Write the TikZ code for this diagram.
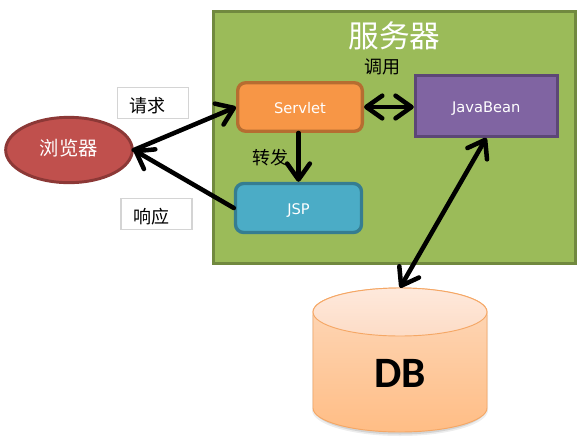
\documentclass[tikz,border=0pt]{standalone}
\usepackage{fontspec}
\setmainfont{DejaVu Sans}
\newfontfamily\cjk{Noto Sans CJK SC}
\newfontfamily\dbfont{Carlito}
\usetikzlibrary{arrows.meta,shapes.geometric,shadings}
\newcommand{\nudge}[2]{\raisebox{#1}[\height][\depth]{#2}}
\definecolor{srvfill}{HTML}{9BBB59}
\definecolor{srvline}{HTML}{71893F}
\definecolor{orgfill}{HTML}{F79646}
\definecolor{orgline}{HTML}{B66D31}
\definecolor{blufill}{HTML}{4BACC6}
\definecolor{bluline}{HTML}{357D91}
\definecolor{purfill}{HTML}{8064A2}
\definecolor{purline}{HTML}{5C4776}
\definecolor{redfill}{HTML}{C0504D}
\definecolor{redline}{HTML}{8C3836}
\definecolor{dbline}{HTML}{F5A765}
\definecolor{dbtopa}{HTML}{FEE9DC}
\definecolor{dbtopb}{HTML}{FDDCC6}
\definecolor{dbmid}{HTML}{FDD9BC}
\definecolor{dbbot}{HTML}{FFBD85}
\definecolor{lblline}{HTML}{D4D4D4}
\tikzset{
  px/.style={x=0.75pt,y=-0.75pt},
  barb/.tip={Straight Barb[length=12pt,width=17pt,line width=3.4pt,round]},
  flow/.style={line width=3.4pt,draw=black,line cap=round,line join=round},
  tip/.style={-barb},
  tips/.style={barb-barb},
  srvbox/.style={rectangle,minimum width=271.5pt,minimum height=189pt,fill=srvfill,draw=srvline,line width=2.2pt,inner sep=0pt},
  rbox/.style={rectangle,rounded corners=6pt,line width=2.5pt,text=white,inner sep=0pt,font=\fontsize{11}{13}\selectfont},
  lbl/.style={rectangle,draw=lblline,fill=white,line width=0.8pt,inner xsep=9pt,inner ysep=0pt,text width=35.25pt,align=flush left,minimum height=23.25pt,font=\cjk\fontsize{13.5}{15}\selectfont},
  note/.style={inner sep=0pt,font=\cjk\fontsize{13.5}{15}\selectfont,text=black},
}
\begin{document}
\begin{tikzpicture}[px]
\useasboundingbox (0,0) rectangle (586,440);
\fill[white] (0,0) rectangle (586,440);
\node[srvbox] (server) at (394.5,137.5) {};
\node[inner sep=0pt,text=white,font=\cjk\fontsize{23}{26}\selectfont] (title) at (394.5,36) {服务器};
\node[rbox,fill=orgfill,draw=orgline,minimum width=93.5pt,minimum height=36.4pt] (servlet) at (300,107) {\nudge{-0.8pt}{Servlet}};
\node[rbox,fill=blufill,draw=bluline,minimum width=94.5pt,minimum height=36.7pt] (jsp) at (298.5,208) {\nudge{-1.6pt}{JSP}};
\node[rectangle,line width=2.5pt,text=white,inner sep=0pt,font=\fontsize{11}{13}\selectfont,fill=purfill,draw=purline,minimum width=106.3pt,minimum height=45.3pt] (bean) at (486.3,106) {\nudge{-1.8pt}{JavaBean}};
\node[ellipse,fill=redfill,draw=redline,line width=2.2pt,minimum width=95pt,minimum height=49pt,inner sep=0pt,text=white,font=\cjk\fontsize{14.5}{16}\selectfont] (browser) at (69,150) {\nudge{1.2pt}{浏览器}};
% database
\node[rectangle,minimum width=130.5pt,minimum height=108pt,inner sep=0pt] (dbshape) at (400,360) {};
\begin{scope}
  \fill[black,opacity=0.07] (312,315) -- (312,410) arc[start angle=180,end angle=360,x radius=88,y radius=-26] -- (488,315) -- cycle;
  \fill[black,opacity=0.10] (314,315) -- (314,409) arc[start angle=180,end angle=360,x radius=86,y radius=-25.5] -- (486,315) -- cycle;
  \path[shade,top color=dbmid,bottom color=dbbot,draw=dbline,line width=0.7pt] (313,312) -- (313,408) arc[start angle=180,end angle=360,x radius=87,y radius=-24] -- (487,312) arc[start angle=0,end angle=180,x radius=87,y radius=-24];
  \path[shade,top color=dbtopa,bottom color=dbtopb,draw=dbline,line width=0.7pt] (400,312) ellipse[x radius=87,y radius=24];
\end{scope}
\node[inner sep=0pt,font=\dbfont\bfseries\fontsize{32.5}{36}\selectfont] (dblabel) at (400,373) {DB};
% labels
\node[lbl] (req) at (153,103) {\nudge{-1.8pt}{请求}};
\node[lbl] (resp) at (156.5,214) {\nudge{-1.8pt}{响应}};
\node[note] (fwd) at (270,158) {转发};
\node[note] (call) at (382,67) {调用};
% connectors
\draw[flow,tip] (browser.east) -- (servlet.west);
\draw[flow,tip] (jsp.west) -- (browser.east);
\draw[flow,tip] (servlet.south -| jsp.north) -- (jsp.north);
\draw[flow,tips] (servlet.east) -- (bean.west |- servlet.east);
\draw[flow,tips] (bean.south) -- (dbshape.north);
\end{tikzpicture}
\end{document}
